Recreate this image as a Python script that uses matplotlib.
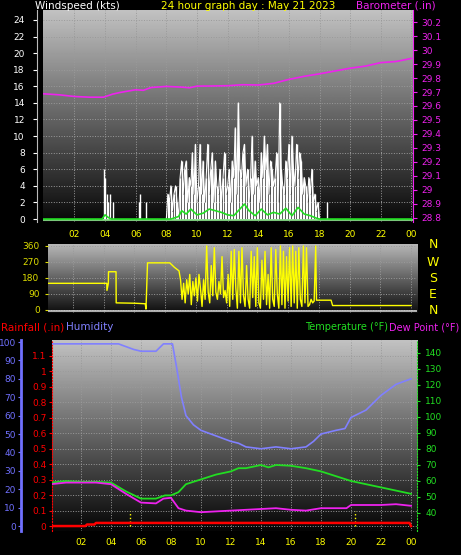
import numpy as np
import matplotlib
matplotlib.use("Agg")
import matplotlib.pyplot as plt

W, H = 461, 555
hour_ticks = [2, 4, 6, 8, 10, 12, 14, 16, 18, 20, 22, 24]
hour_labels = ["02", "04", "06", "08", "10", "12", "14", "16", "18", "20", "22", "00"]

# ---- wind gust (kts) ----
gust_early_t = [3.9, 4.0, 4.1, 4.2, 4.3, 4.5, 6.2, 6.3, 6.7, 18.5]
gust_early_v = [6, 5, 3, 2, 3, 2, 2, 3, 2, 2]
gust_day = [0, 3, 2, 4, 1, 3, 4, 2, 0, 5,
            7, 3, 6, 7, 2, 5, 4, 8, 3, 9,
            2, 4, 9, 3, 7, 2, 5, 9, 3, 6,
            8, 2, 7, 4, 3, 6, 2, 5, 8, 3,
            4, 6, 2, 7, 5, 11, 3, 14, 6, 5,
            8, 9, 4, 6, 2, 5, 10, 3, 7, 4,
            5, 2, 8, 5, 10, 6, 9, 3, 7, 6,
            4, 5, 8, 2, 14, 6, 4, 3, 7, 5,
            9, 3, 10, 6, 4, 9, 5, 8, 7, 3,
            5, 4, 2, 5, 3, 6, 2, 3, 1, 2, 0]
gust_day_t = [8.0 + 0.1 * i for i in range(len(gust_day))]

# ---- average wind (kts) ----
avg_t = [0, 3.8, 4.0, 4.2, 4.4, 8.3, 8.8, 9.0, 9.3, 9.6, 10.0, 10.4, 10.8, 11.2, 11.6,
         12.0, 12.4, 12.8, 13.1, 13.4, 13.8, 14.2, 14.6, 15.0, 15.4, 15.8, 16.2, 16.6,
         17.0, 17.4, 17.8, 18.0, 24]
avg_v = [0, 0, 0.5, 0.2, 0, 0, 0.3, 1.0, 0.6, 1.2, 0.5, 0.7, 1.2, 1.0, 0.8,
         0.5, 0.4, 1.2, 1.8, 1.0, 0.4, 1.2, 0.5, 0.8, 0.6, 1.3, 0.4, 1.4,
         0.6, 0.4, 0.1, 0, 0]

# ---- barometer (inHg) ----
baro_t = [0, 1, 2, 3, 3.9, 4.5, 5, 6, 6.5, 7, 8, 9, 9.5, 10, 11, 12, 13, 14, 15,
          16, 17, 18, 19, 20, 21, 22, 23, 24]
baro_v = [29.687, 29.680, 29.668, 29.663, 29.663, 29.685, 29.697, 29.716, 29.712,
          29.732, 29.740, 29.735, 29.730, 29.742, 29.743, 29.745, 29.752, 29.750,
          29.762, 29.790, 29.812, 29.830, 29.850, 29.870, 29.885, 29.910, 29.918, 29.940]

# ---- wind direction (deg) ----
dir_t = [0, 4.2, 4.21, 4.3, 4.31, 4.8, 4.81, 6.0, 6.7, 6.75, 6.85, 8.3, 8.6, 8.9, 9.0,
         9.1, 9.2, 9.3, 9.4, 9.5, 9.6, 9.7, 9.8, 9.9, 10.0, 10.1, 10.2, 10.3, 10.4,
         10.5, 10.6, 10.7, 10.8, 10.9, 11.0, 11.1, 11.2, 11.3, 11.4, 11.5, 11.6, 11.7,
         11.8, 11.9, 12.0, 12.1, 12.2, 12.3, 12.4, 12.5, 12.6, 12.7, 12.8, 12.9, 13.0,
         13.1, 13.2, 13.3, 13.4, 13.5, 13.6, 13.7, 13.8, 13.9, 14.0, 14.1, 14.2, 14.3,
         14.4, 14.5, 14.6, 14.7, 14.8, 14.9, 15.0, 15.1, 15.2, 15.3, 15.4, 15.5, 15.6,
         15.7, 15.8, 15.9, 16.0, 16.1, 16.2, 16.3, 16.4, 16.5, 16.6, 16.7, 16.8, 16.9,
         17.0, 17.1, 17.2, 17.3, 17.4, 17.5, 17.6, 17.7, 17.8, 17.85, 18.0, 18.8, 18.9, 24]
dir_v = [150, 150, 110, 150, 215, 215, 40, 38, 35, 5, 265, 265, 240, 220, 170,
         60, 150, 40, 170, 90, 200, 30, 160, 80, 180, 50, 200, 120, 20,
         170, 60, 360, 100, 40, 250, 80, 350, 100, 60, 160, 90, 300, 70,
         110, 40, 200, 20, 330, 60, 340, 120, 10, 330, 40, 350, 80,
         20, 250, 60, 10, 330, 70, 300, 20, 350, 40, 10, 280, 60, 330, 30,
         200, 10, 350, 60, 20, 340, 90, 10, 360, 30, 330, 10, 300, 50, 350, 20,
         360, 40, 330, 10, 350, 60, 20, 360, 40, 350, 20, 30, 60, 40, 50,
         360, 55, 55, 55, 25, 25]

# ---- humidity (%) ----
hum_t = [0, 4.5, 5.5, 6, 7, 7.5, 8.1, 8.4, 8.7, 9, 9.5, 10, 11, 12, 12.5, 13, 14, 15,
         16, 17, 17.5, 18, 19, 19.6, 20, 21, 22, 23, 24]
hum_v = [99, 99, 96, 95, 95, 99, 99, 85, 70, 60, 55, 52, 49, 46, 45, 43, 42, 43,
         42, 43, 46, 50, 52, 53, 59, 63, 71, 77, 80]

# ---- temperature / dew point (F) ----
temp_t = [0, 1, 2, 3, 4, 5, 6, 7, 7.6, 8, 8.5, 9, 10, 11, 12, 12.5, 13, 14, 14.5, 15,
          16, 17, 18, 19, 20, 21, 22, 23, 24]
temp_v = [59, 60, 59.5, 59.5, 59, 53.5, 49, 49, 51, 51, 53, 58, 61, 64, 66, 68, 68,
          70, 68.5, 70, 69.5, 68, 66, 63, 60, 58, 56, 54, 52]
dew_t = [0, 1, 2, 3, 4, 5, 6, 7, 7.5, 8, 8.5, 9, 10, 11, 12, 13, 14, 15, 16, 17, 18,
         19, 19.7, 20, 21, 22, 23, 24]
dew_v = [58, 59, 59, 59, 58, 52, 46.5, 46, 49, 49.5, 43, 41.5, 40.5, 41, 41.5, 42,
         42.5, 43, 42, 41.5, 43, 43, 43, 45, 45, 45, 45.5, 44.5]

# ---- rainfall (in) ----
rain_t = [0, 2.3, 2.4, 2.9, 3.0, 23.9, 24.0]
rain_v = [0, 0, 0.01, 0.01, 0.02, 0.02, 0.0]
sun_marks = [5.3, 20.3]


def rect(x0, y0, x1, y1):
    return [x0 / W, 1 - y1 / H, (x1 - x0) / W, (y1 - y0) / H]


def gradient(ax, top=0.80, bottom=0.03):
    g = np.linspace(top, bottom, 256).reshape(-1, 1)
    ax.imshow(g, cmap="gray", vmin=0, vmax=1, aspect="auto", extent=[0, 1, 0, 1],
              transform=ax.transAxes, zorder=0)


def style(ax):
    ax.set_facecolor("black")
    for s in ax.spines.values():
        s.set_visible(False)
    ax.grid(True, color="#9a9a9a", linestyle=":", linewidth=0.7, zorder=1)


fig = plt.figure(figsize=(W / 100, H / 100), dpi=100, facecolor="black")
fs = 6.5

# ================= top panel =================
ax1 = fig.add_axes(rect(43, 10, 413, 222))
style(ax1)
gradient(ax1, 0.76, 0.03)
ax1.set_xlim(-0.05, 24.1)
ax1.set_ylim(-0.36, 25.2)
ax1.vlines(gust_early_t, 0, gust_early_v, color="white", lw=1.0, zorder=3)
ax1.vlines(gust_day_t, 0, gust_day, color="white", lw=1.0, zorder=3)
ax1.plot(gust_day_t, gust_day, color="white", lw=0.8, zorder=3)
ax1.axhline(-0.15, color="#90ee90", lw=1.2, zorder=3)
ax1.plot(avg_t, avg_v, color="#22dd22", lw=1.2, zorder=4)
ax1.set_xticks(hour_ticks)
ax1.set_xticklabels(hour_labels)
ax1.set_yticks(range(0, 25, 2))
ax1.tick_params(axis="x", colors="yellow", labelsize=fs, length=0, pad=6)
ax1.tick_params(axis="y", colors="white", labelsize=fs, length=3, pad=6)
ax1.spines["left"].set_visible(True)
ax1.spines["left"].set_color("#bbbbbb")
ax1.spines["left"].set_position(("outward", 4))
ax1b = ax1.twinx()
ax1b.set_ylim(28.771, 30.286)
ax1b.plot(baro_t, baro_v, color="#ee22ee", lw=1.2, zorder=5)
ax1b.set_yticks(np.round(np.arange(28.8, 30.21, 0.1), 1))
ax1b.set_yticklabels([f"{v:g}" for v in np.round(np.arange(28.8, 30.21, 0.1), 1)])
for s in ax1b.spines.values():
    s.set_visible(False)
ax1b.spines["right"].set_visible(True)
ax1b.spines["right"].set_color("#ee22ee")
ax1b.tick_params(axis="y", colors="#ee22ee", labelsize=fs, length=3, pad=3)

fig.text(35 / W, 1 - 6 / H, "Windspeed (kts)", color="white", fontsize=7.5, va="center")
fig.text(248 / W, 1 - 6 / H, "24 hour graph day : May 21 2023", color="yellow",
         fontsize=7.5, va="center", ha="center")
fig.text(436 / W, 1 - 6 / H, "Barometer (.in)", color="#ee22ee", fontsize=7.5,
         va="center", ha="right")

# ================= middle panel =================
ax2 = fig.add_axes(rect(48, 244, 417, 313))
style(ax2)
gradient(ax2, 0.72, 0.05)
ax2.set_xlim((48 - 42.3) / 15.36, (417 - 42.3) / 15.36)
ax2.set_ylim(-17, 371)
ax2.plot(dir_t, dir_v, color="yellow", lw=1.0, zorder=3)
ax2.axhline(-8, color="#cccccc", lw=1.2, zorder=2)
ax2.set_xticks(hour_ticks)
ax2.set_xticklabels([])
ax2.set_yticks([0, 90, 180, 270, 360])
ax2.tick_params(axis="x", length=0)
ax2.tick_params(axis="y", colors="#dddd00", labelsize=fs, length=2, pad=4)
for lab, yp in zip(["N", "W", "S", "E", "N"], [244, 262, 279, 295, 310]):
    fig.text(433 / W, 1 - yp / H, lab, color="yellow", fontsize=9, ha="center", va="center")

# ================= bottom panel =================
axr = fig.add_axes(rect(52, 340, 417, 531))
style(axr)
gradient(axr, 0.76, 0.02)
axr.set_xlim(0.07, 24.4)
axr.set_ylim(-0.032, 1.2)
axr.plot(rain_t, rain_v, color="red", lw=1.8, zorder=6)
axr.vlines(sun_marks, 0, 0.1, color="yellow", linestyle=":", lw=1.0, zorder=5)
axr.set_xticks(hour_ticks)
axr.set_xticklabels(hour_labels)
axr.set_yticks(np.round(np.arange(0, 1.11, 0.1), 1))
axr.set_yticklabels([f"{v:g}" for v in np.round(np.arange(0, 1.11, 0.1), 1)])
axr.tick_params(axis="x", colors="yellow", labelsize=fs, length=0, pad=5)
axr.tick_params(axis="y", colors="red", labelsize=fs, length=2, pad=2)
axr.spines["left"].set_visible(True)
axr.spines["left"].set_color("red")
axr.spines["left"].set_linestyle(":")

axh = axr.twinx()
axh.set_ylim(-2.7, 101.1)
axh.plot(hum_t, hum_v, color="#8080ff", lw=1.2, zorder=4)
for s in axh.spines.values():
    s.set_visible(False)
axh.yaxis.set_ticks_position("left")
axh.yaxis.set_label_position("left")
axh.spines["left"].set_visible(True)
axh.spines["left"].set_position(("outward", 22))
axh.spines["left"].set_color("#7070ff")
axh.spines["left"].set_linewidth(2)
axh.set_yticks(range(0, 101, 10))
axh.tick_params(axis="y", colors="#7070ff", labelsize=fs, length=2, pad=2)

axt = axr.twinx()
axt.set_ylim(28.75, 148.1)
axt.plot(temp_t, temp_v, color="#22dd22", lw=1.3, zorder=5)
axt.plot(dew_t, dew_v, color="#ee22ee", lw=1.3, zorder=5)
for s in axt.spines.values():
    s.set_visible(False)
axt.spines["right"].set_visible(True)
axt.spines["right"].set_color("#22dd22")
axt.spines["right"].set_linestyle(":")
axt.set_yticks(range(40, 141, 10))
axt.tick_params(axis="y", colors="#22dd22", labelsize=fs, length=2, pad=4)

fig.text(1 / W, 1 - 327 / H, "Rainfall (.in)", color="red", fontsize=7.5, va="center")
fig.text(66 / W, 1 - 327 / H, "Humidity", color="#8080ff", fontsize=7.5, va="center")
fig.text(388 / W, 1 - 327 / H, "Temperature (°F)", color="#22dd22", fontsize=7,
         va="center", ha="right")
fig.text(389 / W, 1 - 327 / H, "Dew Point (°F)", color="#ee22ee", fontsize=7,
         va="center", ha="left")

fig.savefig("out.png", dpi=100, facecolor="black")
